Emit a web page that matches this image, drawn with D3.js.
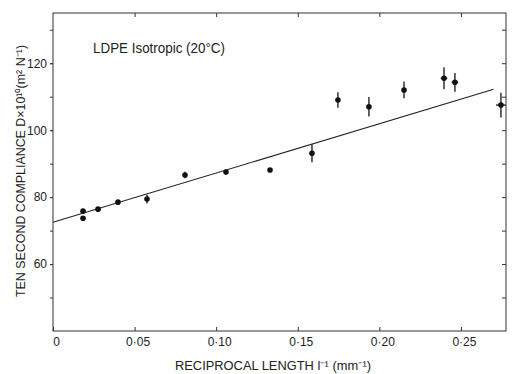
<!DOCTYPE html>
<html><head><meta charset="utf-8">
<script src="https://cdn.jsdelivr.net/npm/d3@7"></script>
<style>html,body{margin:0;padding:0;background:#fff;}svg{display:block;}</style>
</head><body>
<script>
// Data
const recipLength = [0.0184, 0.0184, 0.0276, 0.0398, 0.0576, 0.0809, 0.106, 0.133, 0.1587, 0.1746, 0.1936, 0.2151, 0.2396, 0.2463, 0.2745];
const compliance  = [75.8, 73.7, 76.4, 78.5, 79.4, 86.6, 87.5, 88.1, 93.1, 109.0, 107.0, 112.0, 115.5, 114.3, 107.5];
const yErr        = [0, 0, 0.5, 0.5, 1.3, 1.0, 0.8, 0.6, 2.7, 2.3, 2.9, 2.5, 3.3, 2.8, 3.7];
const xErr        = [0, 0, 0, 0, 0, 0, 0, 0, 0, 0, 0, 0, 0.002, 0.002, 0.003];
const fitX = [0, 0.270];
const fitY = [72.5, 112.2];
const xTicks = [0, 0.05, 0.10, 0.15, 0.20, 0.25];
const xTickLabels = ["0", "0·05", "0·10", "0·15", "0·20", "0·25"];
const yTicks = [60, 80, 100, 120];
const yMinorTicks = [50, 60, 70, 80, 90, 100, 110, 120, 130];

const W = 512, H = 374;
const m = {left: 53, right: 6, top: 13, bottom: 43};
const svg = d3.select("body").append("svg").attr("width", W).attr("height", H);
const x = d3.scaleLinear().domain([0, 0.2776]).range([m.left, W - m.right]);
const y = d3.scaleLinear().domain([40, 135]).range([H - m.bottom, m.top]);
const ink = "#222";
const font = "Liberation Sans, Arial, sans-serif";

// Frame
svg.append("rect").attr("x", x(0)).attr("y", y(135)).attr("width", x(0.2776) - x(0)).attr("height", y(40) - y(135))
  .attr("fill", "none").attr("stroke", "#333").attr("stroke-width", 1);

// Bottom axis
const xAx = svg.append("g").attr("transform", `translate(0,${y(40)})`)
  .call(d3.axisBottom(x).tickValues(xTicks).tickSize(-4).tickFormat((d, i) => xTickLabels[i]).tickPadding(6));
xAx.select(".domain").remove();
xAx.selectAll("line").attr("stroke", "#333");
xAx.selectAll("text").attr("font-family", font).attr("font-size", 12).attr("fill", ink).attr("dx", 3);
// Top axis ticks
const xTop = svg.append("g").attr("transform", `translate(0,${y(135)})`)
  .call(d3.axisTop(x).tickValues(xTicks.slice(1)).tickSize(-4).tickFormat(""));
xTop.select(".domain").remove();
xTop.selectAll("line").attr("stroke", "#333");

// Left axis: minor ticks outward, labels on majors
const yAxMinor = svg.append("g").attr("transform", `translate(${x(0)},0)`)
  .call(d3.axisLeft(y).tickValues(yMinorTicks).tickSize(3).tickFormat(""));
yAxMinor.select(".domain").remove();
yAxMinor.selectAll("line").attr("stroke", "#333");
const yAx = svg.append("g").attr("transform", `translate(${x(0)},0)`)
  .call(d3.axisLeft(y).tickValues(yTicks).tickSize(3).tickPadding(3));
yAx.select(".domain").remove();
yAx.selectAll("line").attr("stroke", "#333");
yAx.selectAll("text").attr("font-family", font).attr("font-size", 12).attr("fill", ink);
// Right axis ticks
const yR = svg.append("g").attr("transform", `translate(${x(0.2776)},0)`)
  .call(d3.axisRight(y).tickValues(yMinorTicks).tickSize(-4).tickFormat(""));
yR.select(".domain").remove();
yR.selectAll("line").attr("stroke", "#333");

// Fit line
const line = d3.line().x(d => x(d[0])).y(d => y(d[1]));
svg.append("path").datum(d3.zip(fitX, fitY)).attr("d", line)
  .attr("fill", "none").attr("stroke", "#222").attr("stroke-width", 1.1);

// Points with error bars
const pts = recipLength.map((v, i) => ({x: v, y: compliance[i], ey: yErr[i], ex: xErr[i]}));
const g = svg.append("g");
g.selectAll("line.ey").data(pts.filter(d => d.ey > 0)).join("line").attr("class", "ey")
  .attr("x1", d => x(d.x)).attr("x2", d => x(d.x))
  .attr("y1", d => y(d.y - d.ey)).attr("y2", d => y(d.y + d.ey))
  .attr("stroke", "#222").attr("stroke-width", 1.4);
g.selectAll("line.ex").data(pts.filter(d => d.ex > 0)).join("line").attr("class", "ex")
  .attr("x1", d => x(d.x - d.ex)).attr("x2", d => x(d.x + d.ex))
  .attr("y1", d => y(d.y)).attr("y2", d => y(d.y))
  .attr("stroke", "#222").attr("stroke-width", 1.4);
g.selectAll("circle").data(pts).join("circle")
  .attr("cx", d => x(d.x)).attr("cy", d => y(d.y)).attr("r", 2.8).attr("fill", "#111");

// Texts
svg.append("text").attr("x", 93).attr("y", 53).attr("font-family", font).attr("font-size", 14)
  .attr("fill", ink).attr("textLength", 132).attr("lengthAdjust", "spacingAndGlyphs")
  .text("LDPE  Isotropic (20°C)");
svg.append("text").attr("x", 273).attr("y", 370).attr("text-anchor", "middle")
  .attr("font-family", font).attr("font-size", 12).attr("fill", ink)
  .attr("textLength", 196).attr("lengthAdjust", "spacingAndGlyphs")
  .text("RECIPROCAL LENGTH  l⁻¹ (mm⁻¹)");
svg.append("text").attr("transform", "translate(25,171) rotate(-90)").attr("text-anchor", "middle")
  .attr("font-family", font).attr("font-size", 12).attr("fill", ink)
  .attr("textLength", 252).attr("lengthAdjust", "spacingAndGlyphs")
  .text("TEN SECOND COMPLIANCE  D×10¹⁰(m² N⁻¹)");
</script>
</body></html>
